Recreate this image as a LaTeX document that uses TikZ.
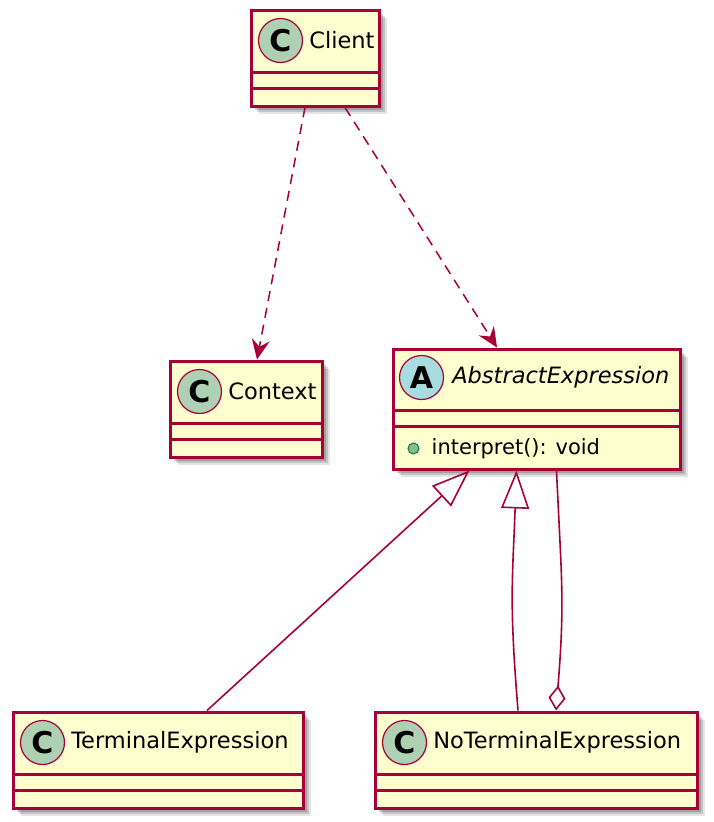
\documentclass[tikz,border=0pt]{standalone}
\usepackage{fontspec}
\setmainfont{DejaVu Sans}
\usetikzlibrary{arrows.meta,positioning,calc,shadows}

\definecolor{umlred}{HTML}{A80036}
\definecolor{umlfill}{HTML}{FEFECE}
\definecolor{classC}{HTML}{ADD1B2}
\definecolor{classA}{HTML}{A9DCDF}
\definecolor{pubfill}{HTML}{84BE84}
\definecolor{publine}{HTML}{038048}

\tikzset{
  classbox/.style={rectangle, draw=umlred, fill=umlfill, line width=3pt, inner sep=0pt,
    drop shadow={shadow xshift=4pt, shadow yshift=-4pt, opacity=.18, fill=black},
    drop shadow={shadow xshift=6pt, shadow yshift=-6pt, opacity=.15, fill=black},
    drop shadow={shadow xshift=8pt, shadow yshift=-8pt, opacity=.10, fill=black}},
  divider/.style={draw=umlred, line width=3pt},
  badge/.style={circle, draw=umlred, line width=1.2pt, fill=#1, minimum size=44pt, inner sep=0pt,
    font=\fontsize{30}{30}\selectfont\bfseries},
  classname/.style={inner sep=0pt, anchor=west, font=\fontsize{22.5}{26}\selectfont},
  pubdot/.style={circle, draw=publine, line width=1pt, fill=pubfill, minimum size=11pt, inner sep=0pt},
  depend/.style={umlred, line width=1.5pt, dash pattern=on 10pt off 7pt,
    -{Stealth[length=20pt, width=18pt, inset=7pt]}},
  extends/.style={umlred, line width=1.6pt, -{Triangle[open, length=38pt, width=28pt]}},
  aggreg/.style={umlred, line width=1.6pt, {Diamond[open, length=25pt, width=17pt]}-},
}

\begin{document}
\begin{tikzpicture}[x=1pt, y=-1pt]
\useasboundingbox (0,0) rectangle (714,822);

% Classes
\node[classbox, minimum width=128pt, minimum height=96pt] (client) at (315,58) {};
\node[classbox, minimum width=152pt, minimum height=96pt] (context) at (246,409) {};
\node[classbox, minimum width=287pt, minimum height=120pt] (abstract) at (536.5,409) {};
\node[classbox, minimum width=290pt, minimum height=96pt] (terminal) at (158,760) {};
\node[classbox, minimum width=322pt, minimum height=96pt] (noterminal) at (536,760) {};

% Compartments
\foreach \n in {client, context, terminal, noterminal} {
  \draw[divider] ([yshift=-64pt]\n.north west) -- ([yshift=-64pt]\n.north east);
  \draw[divider] ([yshift=-80pt]\n.north west) -- ([yshift=-80pt]\n.north east);
}
\draw[divider] ([yshift=-63pt]abstract.north west) -- ([yshift=-63pt]abstract.north east);
\draw[divider] ([yshift=-79pt]abstract.north west) -- ([yshift=-79pt]abstract.north east);

% Headers
\node[badge=classC] (clientC) at ([xshift=31pt, yshift=-32pt]client.north west) {C};
\node[classname, right=6pt of clientC] (clientT) {Client};
\node[badge=classC] (contextC) at ([xshift=31pt, yshift=-32pt]context.north west) {C};
\node[classname, right=6pt of contextC] (contextT) {Context};
\node[badge=classA] (abstractA) at ([xshift=30pt, yshift=-30pt]abstract.north west) {A};
\node[classname, right=8pt of abstractA, font=\fontsize{22.5}{26}\selectfont\itshape] (abstractT) {AbstractExpression};
\node[badge=classC] (terminalC) at ([xshift=31pt, yshift=-32pt]terminal.north west) {C};
\node[classname, right=6pt of terminalC] (terminalT) {TerminalExpression};
\node[badge=classC] (noterminalC) at ([xshift=31pt, yshift=-32pt]noterminal.north west) {C};
\node[classname, right=6pt of noterminalC] (noterminalT) {NoTerminalExpression};

% Operation
\node[pubdot] (interpD) at ([xshift=22pt, yshift=-101pt]abstract.north west) {};
\node[classname, right=12pt of interpD, font=\fontsize{21}{24}\selectfont] (interpT) {interpret(): void};

% Relations
\draw[depend] ([xshift=-10pt]client.south) -- ([xshift=11pt]context.north);
\draw[depend] ([xshift=30pt]client.south) -- ([xshift=-39.5pt]abstract.north);
\draw[extends] ([xshift=49pt]terminal.north) -- ([xshift=-67pt]abstract.south);
\draw[extends] ([xshift=-18pt]noterminal.north) .. controls +(-9,-110) and +(-4,110) .. ([xshift=-20pt]abstract.south);
\draw[aggreg] ([xshift=20pt]noterminal.north) .. controls +(9,-110) and +(5,110) .. ([xshift=20pt]abstract.south);

\end{tikzpicture}
\end{document}
